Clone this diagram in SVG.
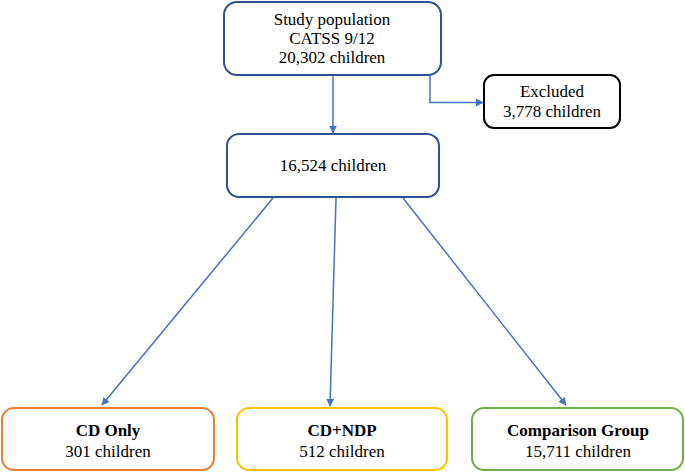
<svg xmlns="http://www.w3.org/2000/svg" width="685" height="472" viewBox="0 0 685 472">
<style>
text{font-family:'Liberation Serif','Times New Roman','DejaVu Serif',serif;font-size:17px;fill:#000;text-anchor:middle}
.b{font-weight:bold}
.box{fill:#fff;stroke-width:2}
.blue{stroke:#2F528F}
.line{stroke:#4472C4;stroke-width:1.5;fill:none}
</style>
<defs>
<marker id="ah" viewBox="0 0 10 10" refX="9" refY="5" markerWidth="8" markerHeight="8" markerUnits="userSpaceOnUse" orient="auto">
<path d="M0,0 L10,5 L0,10 z" fill="#4472C4"/>
</marker>
</defs>
<g id="connectors">
<line class="line" x1="333" y1="75" x2="333" y2="133" marker-end="url(#ah)"/>
<polyline class="line" points="430,75 430,102.5 483,102.5" marker-end="url(#ah)"/>
<line class="line" x1="273" y1="198" x2="102" y2="405" marker-end="url(#ah)"/>
<line class="line" x1="336" y1="198" x2="330" y2="406" marker-end="url(#ah)"/>
<line class="line" x1="403" y1="198" x2="566" y2="405" marker-end="url(#ah)"/>
</g>
<g id="study">
<rect class="box blue" x="224" y="2" width="217" height="73" rx="13"/>
<text x="332" y="25">Study population</text>
<text x="332" y="44">CATSS 9/12</text>
<text x="332" y="63">20,302 children</text>
</g>
<g id="excluded">
<rect class="box" stroke="#000" x="484" y="75" width="136" height="53" rx="10"/>
<text x="552" y="97">Excluded</text>
<text x="552" y="117">3,778 children</text>
</g>
<g id="mid">
<rect class="box blue" x="227" y="134" width="212" height="63" rx="12"/>
<text x="333" y="171">16,524 children</text>
</g>
<g id="cdonly">
<rect class="box" stroke="#ED7D31" x="2" y="408" width="212" height="62" rx="12"/>
<text class="b" x="108" y="436">CD Only</text>
<text x="108" y="457">301 children</text>
</g>
<g id="cdndp">
<rect class="box" stroke="#FFC000" x="237" y="408" width="210" height="62" rx="12"/>
<text class="b" x="342" y="436">CD+NDP</text>
<text x="342" y="457">512 children</text>
</g>
<g id="comparison">
<rect class="box" stroke="#70AD47" x="472" y="408" width="211" height="62" rx="12"/>
<text class="b" x="578" y="436">Comparison Group</text>
<text x="578" y="457">15,711 children</text>
</g>
</svg>
